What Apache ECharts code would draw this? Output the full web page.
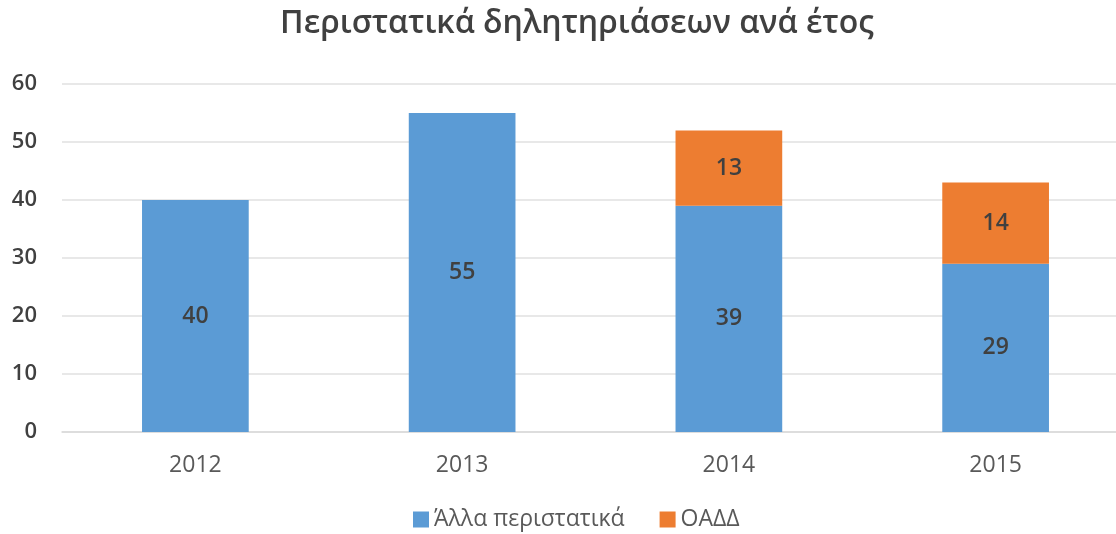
<!DOCTYPE html>
<html>
<head>
<meta charset="utf-8">
<script src="https://cdn.jsdelivr.net/npm/echarts@6/dist/echarts.min.js"></script>
<style>
    html, body { margin: 0; padding: 0; background: #fff; }
    #chart { width: 1116px; height: 534px; }
</style>
</head>
<body>
<div id="chart"></div>
<script>
// δεδομένα
var years = ['2012', '2013', '2014', '2015'];
var allaData = [40, 55, 39, 29];
var oaddData = [null, null, 13, 14];
var seriesNames = ['Άλλα περιστατικά', 'ΟΑΔΔ'];

var chart = echarts.init(document.getElementById('chart'));

var labelStyle = {
    show: true,
    position: 'inside',
    color: '#404040',
    fontSize: 23,
    fontWeight: 600,
    fontFamily: 'Open Sans'
};

var option = {
    animation: false,
    color: ['#5B9BD5', '#ED7D31'],
    title: {
        text: 'Περιστατικά δηλητηριάσεων ανά έτος',
        left: 572,
        textAlign: 'center',
        top: 3,
        textStyle: {
            color: '#404040',
            fontSize: 32,
            fontWeight: 600,
            fontFamily: 'Open Sans'
        }
    },
    legend: {
        data: seriesNames,
        left: 408,
        top: 503,
        itemWidth: 16,
        itemHeight: 16,
        itemGap: 35,
        icon: 'rect',
        textStyle: {
            color: '#595959',
            fontSize: 23,
            fontFamily: 'Open Sans'
        }
    },
    grid: {
        left: 62,
        top: 84,
        width: 1067,
        height: 348,
        outerBoundsMode: 'none'
    },
    xAxis: {
        type: 'category',
        data: years,
        axisLine: { lineStyle: { color: '#d9d9d9', width: 1.5 } },
        axisTick: { show: false },
        axisLabel: {
            color: '#595959',
            fontSize: 23,
            margin: 22,
            fontFamily: 'Open Sans'
        }
    },
    yAxis: {
        type: 'value',
        min: 0,
        max: 60,
        interval: 10,
        axisLine: { show: false },
        axisTick: { show: false },
        axisLabel: {
            color: '#404040',
            fontSize: 22,
            fontWeight: 600,
            margin: 25,
            fontFamily: 'Open Sans'
        },
        splitLine: { lineStyle: { color: '#e0e0e0', width: 1.5 } }
    },
    series: [
        {
            name: seriesNames[0],
            type: 'bar',
            stack: 'total',
            barWidth: '40%',
            label: labelStyle,
            data: allaData
        },
        {
            name: seriesNames[1],
            type: 'bar',
            stack: 'total',
            barWidth: '40%',
            label: labelStyle,
            data: oaddData
        }
    ]
};
chart.setOption(option);
</script>
</body>
</html>
